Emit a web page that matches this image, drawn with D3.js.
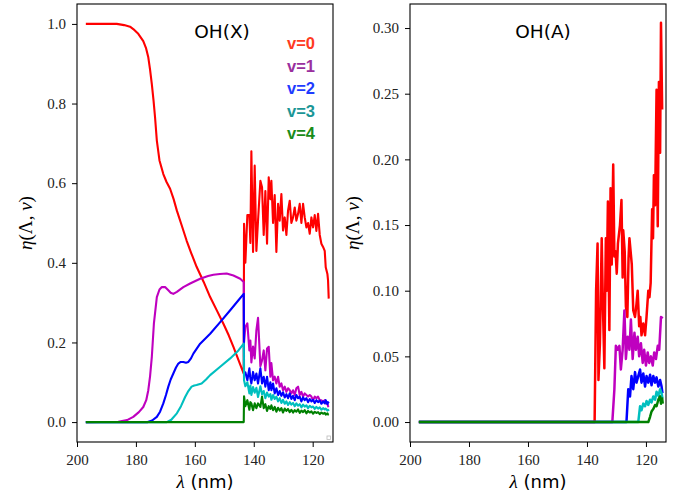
<!DOCTYPE html>
<html>
<head>
<meta charset="utf-8">
<title>OH(X) / OH(A) branching</title>
<script src="https://cdn.jsdelivr.net/npm/d3@7"></script>
<style>
  body { margin: 0; background: #fff; }
</style>
</head>
<body>
<svg id="chart" width="686" height="497"></svg>
<script>
// ---- data ----
var vLabels = ["v=0", "v=1", "v=2", "v=3", "v=4"];
var lineColors = ["#ff0000", "#bf00bf", "#0000ff", "#00bfbf", "#008000"];
var labelColors = ["#ff3b1f", "#9a2f9e", "#1f3cff", "#1a9696", "#1a8c1a"];
var xTicks = [200, 180, 160, 140, 120];
var yTicksX = [0, 0.2, 0.4, 0.6, 0.8, 1.0];
var yTicksA = [0, 0.05, 0.10, 0.15, 0.20, 0.25, 0.30];

// OH(X), smooth part (long wavelengths)
var xV0Lam = [197, 190, 186.5, 184, 182, 180.9, 179.2, 177.5, 176.6, 175.8, 175.2, 174.6, 174.0, 173.5, 172.9, 172.0, 170.7, 169.6, 168.4, 167.2, 166.1, 164.5, 162.8, 161.2, 159.4, 157, 154.8, 152.5, 150.3, 148.5, 146.9, 145.5, 144.1, 143.4];
var xV0Eta = [1.0, 1.0, 1.0, 0.997, 0.993, 0.987, 0.975, 0.957, 0.94, 0.916, 0.885, 0.849, 0.806, 0.765, 0.707, 0.657, 0.623, 0.603, 0.586, 0.56, 0.531, 0.495, 0.456, 0.424, 0.39, 0.352, 0.314, 0.28, 0.247, 0.218, 0.189, 0.162, 0.135, 0.122];
var xV1Lam = [197, 186.0, 183, 180.9, 179, 177.5, 176.5, 175.8, 175.2, 174.6, 173.9, 172.9, 172.0, 171.2, 170.1, 169.0, 168.2, 167.3, 166.1, 163.9, 161.6, 158.2, 155.5, 153.7, 151.5, 149.2, 146.9, 144.6, 143.4];
var xV1Eta = [0, 0.001, 0.005, 0.013, 0.025, 0.038, 0.055, 0.08, 0.115, 0.164, 0.247, 0.314, 0.333, 0.339, 0.339, 0.331, 0.325, 0.322, 0.327, 0.339, 0.348, 0.36, 0.367, 0.37, 0.372, 0.373, 0.368, 0.36, 0.352];
var xV2Lam = [197, 176, 174.5, 172.9, 171.8, 170.7, 169.8, 169.0, 168.2, 167.3, 166.4, 165.6, 164.8, 163.9, 163.0, 162.2, 161.3, 160.5, 158.2, 154.8, 151.4, 148.0, 145.2, 143.4];
var xV2Eta = [0, 0, 0.004, 0.013, 0.026, 0.047, 0.068, 0.089, 0.107, 0.122, 0.137, 0.147, 0.151, 0.151, 0.149, 0.151, 0.16, 0.172, 0.197, 0.222, 0.251, 0.281, 0.306, 0.322];
var xV3Lam = [197, 169.5, 168, 166.1, 164.7, 163.3, 162.2, 161.1, 160.2, 159.4, 157.7, 156.2, 154.8, 151.4, 148.0, 145.2, 143.4];
var xV3Eta = [0, 0, 0.006, 0.022, 0.04, 0.063, 0.078, 0.089, 0.092, 0.093, 0.097, 0.107, 0.118, 0.139, 0.16, 0.18, 0.197];
var xV4Lam = [197, 143.4];
var xV4Eta = [0, 0];

// OH(X), noisy part (short wavelengths), shared wavelength grid
var xNoisyLam = [143.3, 142.85, 142.17, 141.49, 141.15, 140.81, 140.24, 139.68, 139.11, 138.55, 137.75, 137.19, 136.62, 136.06, 135.49, 134.92, 134.36, 134.02, 133.45, 132.89, 132.32, 131.75, 131.19, 130.62, 130.06, 129.49, 128.92, 128.36, 127.79, 127.23, 126.66, 126.09, 125.53, 124.96, 124.40, 123.83, 123.26, 122.70, 122.13, 121.57, 121.00, 120.43, 119.87, 119.30, 118.74, 118.17, 117.60, 117.04, 116.47, 115.91, 115.57, 115.00, 114.78, 114.55];
var xV0Noisy = [0.498, 0.40, 0.52, 0.52, 0.45, 0.68, 0.427, 0.644, 0.43, 0.506, 0.606, 0.59, 0.47, 0.58, 0.448, 0.615, 0.56, 0.606, 0.50, 0.57, 0.427, 0.548, 0.506, 0.573, 0.481, 0.514, 0.47, 0.531, 0.556, 0.50, 0.514, 0.539, 0.506, 0.523, 0.548, 0.50, 0.548, 0.514, 0.489, 0.50, 0.473, 0.514, 0.489, 0.52, 0.48, 0.523, 0.47, 0.448, 0.44, 0.43, 0.389, 0.372, 0.356, 0.31];
var xV1Noisy = [0.20, 0.239, 0.248, 0.18, 0.205, 0.15, 0.19, 0.16, 0.23, 0.262, 0.14, 0.155, 0.18, 0.13, 0.185, 0.189, 0.114, 0.148, 0.105, 0.114, 0.097, 0.114, 0.089, 0.097, 0.08, 0.089, 0.076, 0.085, 0.08, 0.072, 0.08, 0.068, 0.085, 0.089, 0.068, 0.076, 0.064, 0.072, 0.068, 0.064, 0.068, 0.064, 0.055, 0.064, 0.06, 0.064, 0.055, 0.055, 0.051, 0.055, 0.047, 0.047, 0.04, 0.038];
var xV2Noisy = [0.12, 0.125, 0.105, 0.135, 0.11, 0.097, 0.126, 0.105, 0.122, 0.097, 0.135, 0.097, 0.114, 0.089, 0.114, 0.08, 0.10, 0.08, 0.097, 0.072, 0.085, 0.068, 0.078, 0.066, 0.075, 0.062, 0.07, 0.06, 0.072, 0.058, 0.066, 0.055, 0.068, 0.06, 0.064, 0.052, 0.062, 0.055, 0.06, 0.05, 0.058, 0.052, 0.056, 0.048, 0.055, 0.05, 0.054, 0.046, 0.052, 0.047, 0.055, 0.045, 0.05, 0.047];
var xV3Noisy = [0.105, 0.09, 0.10, 0.072, 0.092, 0.068, 0.088, 0.074, 0.086, 0.063, 0.09, 0.07, 0.078, 0.06, 0.074, 0.064, 0.07, 0.056, 0.068, 0.058, 0.064, 0.052, 0.06, 0.048, 0.056, 0.046, 0.052, 0.043, 0.05, 0.044, 0.048, 0.04, 0.047, 0.041, 0.045, 0.037, 0.044, 0.039, 0.042, 0.035, 0.041, 0.037, 0.039, 0.033, 0.038, 0.034, 0.037, 0.031, 0.035, 0.032, 0.034, 0.029, 0.031, 0.028];
var xV4Noisy = [0.065, 0.04, 0.055, 0.031, 0.05, 0.047, 0.03, 0.047, 0.035, 0.047, 0.038, 0.064, 0.035, 0.045, 0.028, 0.04, 0.033, 0.042, 0.03, 0.038, 0.026, 0.036, 0.029, 0.035, 0.024, 0.034, 0.028, 0.033, 0.025, 0.031, 0.024, 0.03, 0.026, 0.032, 0.023, 0.029, 0.025, 0.03, 0.022, 0.028, 0.024, 0.027, 0.021, 0.026, 0.023, 0.025, 0.02, 0.024, 0.021, 0.023, 0.019, 0.022, 0.019, 0.02];

// OH(A)
var aV0Lam = [197, 137.4, 136.9, 136.4, 136.1, 135.6, 135.0, 134.6, 134.1, 133.6, 133.3, 132.9, 132.4, 132.0, 131.6, 131.1, 130.7, 130.3, 129.9, 129.5, 128.8, 128.3, 127.9, 127.7, 127.2, 126.8, 126.3, 125.9, 125.6, 124.8, 124.3, 123.7, 123.2, 122.8, 122.3, 121.9, 121.5, 120.9, 120.3, 119.8, 119.2, 118.8, 118.4, 117.9, 117.6, 117.3, 116.9, 116.4, 116.0, 115.6, 115.2, 114.9, 114.5];
var aV0Eta = [0, 0, 0.10, 0.136, 0.032, 0.06, 0.14, 0.09, 0.041, 0.14, 0.10, 0.168, 0.07, 0.178, 0.12, 0.196, 0.126, 0.13, 0.113, 0.136, 0.15, 0.169, 0.11, 0.146, 0.13, 0.088, 0.08, 0.125, 0.14, 0.12, 0.085, 0.08, 0.09, 0.10, 0.073, 0.08, 0.066, 0.075, 0.066, 0.08, 0.10, 0.095, 0.106, 0.162, 0.14, 0.188, 0.165, 0.253, 0.149, 0.259, 0.205, 0.304, 0.238];
var aV1Lam = [197, 131.4, 130.7, 130.2, 129.6, 129.0, 128.5, 127.9, 127.3, 126.8, 126.2, 125.6, 125.1, 124.5, 123.9, 123.4, 122.8, 122.3, 121.7, 121.1, 120.6, 120.0, 119.4, 118.9, 118.3, 117.7, 117.2, 116.6, 116.0, 115.5, 114.9, 114.3];
var aV1Eta = [0, 0, 0.025, 0.058, 0.055, 0.058, 0.04, 0.055, 0.085, 0.048, 0.065, 0.055, 0.078, 0.048, 0.068, 0.055, 0.065, 0.05, 0.06, 0.045, 0.055, 0.043, 0.053, 0.045, 0.05, 0.043, 0.053, 0.048, 0.058, 0.055, 0.08, 0.079];
var aV2Lam = [197, 126.6, 126.0, 125.4, 124.9, 124.3, 123.7, 123.2, 122.6, 122.0, 121.5, 120.9, 120.3, 119.8, 119.2, 118.6, 118.1, 117.5, 116.9, 116.4, 115.8, 115.2, 114.7, 114.4];
var aV2Eta = [0, 0, 0.025, 0.0195, 0.035, 0.025, 0.038, 0.03, 0.035, 0.04, 0.03, 0.037, 0.027, 0.035, 0.03, 0.036, 0.028, 0.035, 0.03, 0.034, 0.027, 0.032, 0.027, 0.022];
var aV3Lam = [197, 122.6, 122.0, 121.5, 120.9, 120.3, 119.8, 119.2, 118.6, 118.1, 117.5, 116.9, 116.4, 115.8, 115.2, 114.7, 114.4];
var aV3Eta = [0, 0, 0.012, 0.009, 0.014, 0.012, 0.016, 0.013, 0.017, 0.015, 0.0195, 0.017, 0.023, 0.02, 0.025, 0.022, 0.018];
var aV4Lam = [197, 119.2, 118.6, 118.1, 117.5, 116.9, 116.4, 115.8, 115.2, 114.9, 114.5, 114.3];
var aV4Eta = [0, 0, 0.004, 0.008, 0.010, 0.013, 0.012, 0.017, 0.0195, 0.014, 0.018, 0.014];

// ---- layout ----
var serif = "'Liberation Serif', 'DejaVu Serif', serif";
var sans = "'DejaVu Sans', sans-serif";
var svg = d3.select("#chart");

var panels = [
  {
    title: "OH(X)", titleX: 222, titleY: 38,
    left: 77, right: 333, top: 4, bottom: 442,
    xDomain: [200, 113.1], yDomain: [-0.05, 1.05],
    yTicks: yTicksX, yFmt: d3.format(".1f"), yLabelX: 32,
    lams: [xV0Lam.concat(xNoisyLam), xV1Lam.concat(xNoisyLam), xV2Lam.concat(xNoisyLam), xV3Lam.concat(xNoisyLam), xV4Lam.concat(xNoisyLam)],
    etas: [xV0Eta.concat(xV0Noisy), xV1Eta.concat(xV1Noisy), xV2Eta.concat(xV2Noisy), xV3Eta.concat(xV3Noisy), xV4Eta.concat(xV4Noisy)],
    width: 2.1, legend: true
  },
  {
    title: "OH(A)", titleX: 543, titleY: 37.5,
    left: 410, right: 666, top: 4, bottom: 442,
    xDomain: [200, 113.2], yDomain: [-0.0152, 0.3183],
    yTicks: yTicksA, yFmt: d3.format(".2f"), yLabelX: 359,
    lams: [aV0Lam, aV1Lam, aV2Lam, aV3Lam, aV4Lam],
    etas: [aV0Eta, aV1Eta, aV2Eta, aV3Eta, aV4Eta],
    width: 2.5, legend: false
  }
];

panels.forEach(function(p, pi) {
  var x = d3.scaleLinear().domain(p.xDomain).range([p.left, p.right]);
  var y = d3.scaleLinear().domain(p.yDomain).range([p.bottom, p.top]);

  svg.append("clipPath").attr("id", "clip" + pi)
    .append("rect")
    .attr("x", p.left).attr("y", p.top)
    .attr("width", p.right - p.left).attr("height", p.bottom - p.top);

  var line = d3.line().x(function(d) { return x(d[0]); }).y(function(d) { return y(d[1]); });

  var g = svg.append("g").attr("clip-path", "url(#clip" + pi + ")");
  p.lams.forEach(function(lam, i) {
    g.append("path")
      .datum(d3.zip(lam, p.etas[i]))
      .attr("d", line)
      .attr("fill", "none")
      .attr("stroke", lineColors[i])
      .attr("stroke-width", p.width)
      .attr("stroke-linejoin", "round");
  });

  // axes
  var xAxis = svg.append("g")
    .attr("transform", "translate(0," + p.bottom + ")")
    .call(d3.axisBottom(x).tickValues(xTicks).tickSize(5).tickPadding(4).tickFormat(d3.format("d")));
  var yAxis = svg.append("g")
    .attr("transform", "translate(" + p.left + ",0)")
    .call(d3.axisLeft(y).tickValues(p.yTicks).tickSize(5).tickPadding(6).tickFormat(p.yFmt));
  [xAxis, yAxis].forEach(function(ax) {
    ax.select(".domain").remove();
    ax.selectAll(".tick line").attr("stroke", "#000");
    ax.selectAll(".tick text")
      .style("font-family", serif)
      .style("font-size", "15px")
      .attr("fill", "#222");
  });
  xAxis.selectAll(".tick text").attr("dy", "0.95em");

  svg.append("rect")
    .attr("x", p.left).attr("y", p.top)
    .attr("width", p.right - p.left).attr("height", p.bottom - p.top)
    .attr("fill", "none").attr("stroke", "#000").attr("stroke-width", 1.1);

  // panel title
  svg.append("text")
    .attr("x", p.titleX).attr("y", p.titleY)
    .attr("text-anchor", "middle")
    .style("font-family", sans)
    .style("font-size", "18.5px")
    .text(p.title);

  // x label: λ (nm)
  var xl = svg.append("text")
    .attr("x", (p.left + p.right) / 2).attr("y", 488)
    .attr("text-anchor", "middle")
    .style("font-size", "18px");
  xl.append("tspan").style("font-family", serif).style("font-style", "italic").style("font-size", "19px").text("λ");
  xl.append("tspan").style("font-family", sans).text(" (nm)");

  // y label: η(Λ, v)
  var yl = svg.append("text")
    .attr("transform", "translate(" + p.yLabelX + "," + ((p.top + p.bottom) / 2) + ") rotate(-90)")
    .attr("text-anchor", "middle")
    .style("font-family", serif)
    .style("font-size", "19px");
  yl.append("tspan").style("font-style", "italic").text("η");
  yl.append("tspan").text("(Λ, ");
  yl.append("tspan").style("font-style", "italic").text("v");
  yl.append("tspan").text(")");

  if (p.legend) {
    vLabels.forEach(function(lbl, i) {
      svg.append("text")
        .attr("x", 287).attr("y", 49 + i * 22.5)
        .style("font-family", "'Liberation Sans', Arial, sans-serif")
        .style("font-weight", "bold")
        .style("font-size", "16.5px")
        .attr("fill", labelColors[i])
        .text(lbl);
    });
    // tiny marker in the lower-right corner
    svg.append("rect")
      .attr("x", p.right - 6).attr("y", p.bottom - 6)
      .attr("width", 3.5).attr("height", 3.5)
      .attr("fill", "none").attr("stroke", "#bbb").attr("stroke-width", 0.8);
  }
});
</script>
</body>
</html>
